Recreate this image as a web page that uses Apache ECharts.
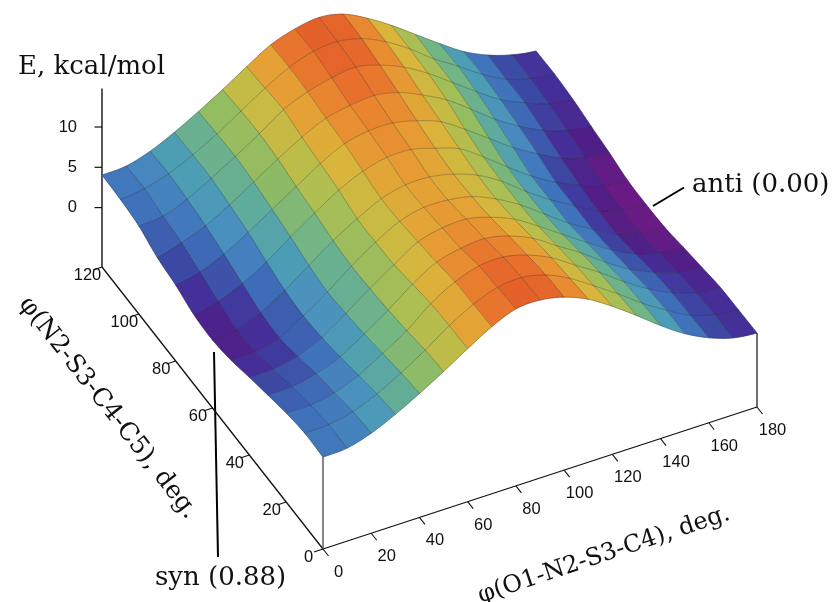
<!DOCTYPE html>
<html><head><meta charset="utf-8">
<style>html,body{margin:0;padding:0;background:#fff}#c{width:834px;height:602px}</style>
<script src="https://cdn.jsdelivr.net/npm/echarts@6/dist/echarts.min.js"></script>
</head><body><div id="c"></div>
<script>
const phi1Values=[0,10,20,30,40,50,60,70,80,90,100,110,120,130,140,150,160,170,180];
const phi2Values=[0,10,20,30,40,50,60,70,80,90,100,110,120];
const phi1Ticks=[0,20,40,60,80,100,120,140,160,180];
const phi2Ticks=[0,20,40,60,80,100,120];
const energyTicks=[0,5,10];
// E (kcal/mol): one row per phi1, one column per phi2
const energy=[
[4.04,4.11,3.67,2.99,2.27,1.50,1.07,1.25,2.06,2.56,3.55,3.92,4.04],
[4.17,4.17,3.67,3.05,2.31,1.56,1.32,1.94,2.68,3.42,3.80,4.29,4.17],
[5.04,4.79,4.23,3.67,2.93,2.31,2.49,3.18,3.92,4.54,4.91,5.16,5.04],
[6.40,6.03,5.41,4.79,4.29,4.04,4.29,4.91,5.66,6.15,6.53,6.53,6.40],
[8.01,7.64,7.15,6.65,6.28,6.03,6.40,7.02,7.52,8.01,8.26,8.14,8.01],
[9.75,9.50,9.01,8.64,8.39,8.26,8.51,9.01,9.38,9.88,10.12,10.00,9.75],
[11.61,11.55,11.36,10.87,10.37,10.25,10.25,10.87,11.24,11.61,12.11,11.86,11.61],
[13.35,13.23,13.10,12.61,12.23,11.86,11.74,12.23,12.73,12.98,13.35,13.47,13.35],
[14.59,14.34,14.09,13.35,12.98,12.61,12.48,12.98,13.35,13.60,14.09,14.47,14.34],
[14.71,14.59,14.22,13.60,13.10,12.54,12.48,12.98,13.35,13.85,14.47,14.71,14.78],
[14.09,13.92,13.47,12.93,12.33,11.99,11.86,12.15,12.65,13.23,13.72,14.09,14.22],
[12.85,12.53,12.17,11.66,11.12,10.71,10.74,11.12,11.55,11.95,12.48,12.73,12.73],
[10.99,10.62,10.25,9.75,9.26,9.01,9.01,9.13,9.63,10.37,10.74,10.87,10.87],
[8.88,8.64,8.39,7.89,7.27,6.90,6.77,6.90,7.52,8.26,8.64,8.64,8.76],
[6.65,6.53,6.28,5.78,5.29,4.79,4.79,4.79,5.41,6.03,6.53,6.77,6.65],
[4.67,4.67,4.42,3.92,3.42,3.05,3.05,3.05,3.67,4.17,4.54,4.79,4.67],
[3.18,3.05,2.93,2.56,1.94,1.44,1.44,1.69,2.12,2.68,3.18,3.18,3.26],
[2.18,2.18,1.94,1.56,1.07,0.57,0.57,0.69,1.19,1.69,2.06,2.31,2.31],
[1.81,1.74,1.66,1.23,0.78,0.32,0.20,0.26,0.78,1.19,1.65,1.87,1.81]
];
const colorLevels=[0.5,1.2,2.0,2.7,3.9,5.0,5.7,6.7,7.7,8.8,9.8,10.8,11.8,12.6,13.4,14.0,14.6];
const colorRamp=['#6a1a85','#4f1f87','#44309a','#3c4aa4','#3f72bb','#4a8fc0','#4d9db5','#5ca9a0','#72b585','#90bb63','#a9bf55','#c3bb45','#dab53b','#e5a034','#e98a30','#e8702c','#e4602a'];

// oblique view of the box
const view={ox:323,oy:549,xx:434,xy:-142,yx:-221,yy:-282,zs:8.06,eBase:-7.37,eTop:14.77};
function project(p1,p2,e){
  return [view.ox+p1/180*view.xx+p2/120*view.yx,
          view.oy+p1/180*view.xy+p2/120*view.yy-(e-view.eBase)*view.zs];
}
function colorOf(e){
  if(e<=colorLevels[0])return colorRamp[0];
  for(let k=1;k<colorLevels.length;k++){
    if(e<=colorLevels[k]){
      const t=(e-colorLevels[k-1])/(colorLevels[k]-colorLevels[k-1]);
      return echarts.color.lerp(t,[colorRamp[k-1],colorRamp[k]]);
    }
  }
  return colorRamp[colorRamp.length-1];
}
// spline smoothing of the drawn surface between grid nodes
const SUB=5;
function cr(a,b,c,d,t){return 0.5*(2*b+(c-a)*t+(2*a-5*b+4*c-d)*t*t+(3*b-a-3*c+d)*t*t*t);}
const ni=phi1Values.length,nj=phi2Values.length;
const E=(i,j)=>energy[Math.max(0,Math.min(ni-1,i))][Math.max(0,Math.min(nj-1,j))];
function rowAt(i,s){const j=Math.min(Math.floor(s),nj-2),t=s-j;return cr(E(i,j-1),E(i,j),E(i,j+1),E(i,j+2),t);}
function surfAt(u,s){const i=Math.min(Math.floor(u),ni-2),t=u-i;return cr(rowAt(i-1,s),rowAt(i,s),rowAt(i+1,s),rowAt(i+2,s),t);}
function surfPoint(api,u,s){return api.coord(project(u*10,s*10,surfAt(u,s)));}

// cells, far to near
const cells=[];
for(let i=ni-2;i>=0;i--)for(let j=nj-2;j>=0;j--){
  cells.push([i,j,energy[i][j],energy[i+1][j],energy[i+1][j+1],energy[i][j+1]]);
}
const gridLines=[];
phi1Values.forEach((_,i)=>gridLines.push(['a',i]));
phi2Values.forEach((_,j)=>gridLines.push(['b',j]));

const sans='"Liberation Sans"',serif='"DejaVu Serif"';
const axisColor='#111';
const seg=(api,a,b,color,w)=>({type:'line',shape:{x1:api.coord(a)[0],y1:api.coord(a)[1],x2:api.coord(b)[0],y2:api.coord(b)[1]},style:{stroke:color,lineWidth:w}});
const tickText=(api,p,dx,dy,t,align)=>{const c=api.coord(p);return{type:'text',style:{x:c[0]+dx,y:c[1]+dy,text:String(t),font:'16.5px '+sans,fill:'#111',align:align||'center',verticalAlign:'middle'}};};

const axisItems=[['boxx'],['boxy'],['boxz'],['vo'],['vx']]
  .concat(phi1Ticks.map(v=>['t1',v])).concat(phi2Ticks.map(v=>['t2',v])).concat(energyTicks.map(v=>['t3',v]));

const option={
  animation:false,
  grid:{left:0,right:0,top:0,bottom:0},
  xAxis:{type:'value',min:0,max:834,show:false},
  yAxis:{type:'value',min:0,max:602,inverse:true,show:false},
  series:[
    {type:'custom',coordinateSystem:'cartesian2d',clip:false,silent:true,data:axisItems.map((d,k)=>[k]),
     renderItem(params,api){
      const d=axisItems[params.dataIndex],b=view.eBase;
      switch(d[0]){
        case 'boxx':return seg(api,project(0,0,b),project(180,0,b),axisColor,1.3);
        case 'boxy':return seg(api,project(0,0,b),project(0,120,b),axisColor,1.3);
        case 'boxz':return seg(api,project(0,120,b),project(0,120,view.eTop),axisColor,1.4);
        case 'vo':return seg(api,project(0,0,b),project(0,0,energy[0][0]),'#555',1.4);
        case 'vx':return seg(api,project(180,0,b),project(180,0,energy[18][0]),'#333',1.4);
        case 't1':{const p=project(d[1],0,b);return{type:'group',children:[
            seg(api,p,[p[0]+5.5,p[1]+7],axisColor,1.1),tickText(api,p,15.5,23.5,d[1])]};}
        case 't2':{const p=project(0,d[1],b);return{type:'group',children:[
            seg(api,p,[p[0]-9,p[1]+3],axisColor,1.1),tickText(api,p,-14.5,8.5,d[1])]};}
        case 't3':{const p=project(0,120,d[1]);return{type:'group',children:[
            seg(api,p,[p[0]-7.5,p[1]],axisColor,1.2),tickText(api,p,-25,0,d[1],'right')]};}
      }
     }},
    {type:'custom',coordinateSystem:'cartesian2d',clip:false,silent:true,data:cells.map((c,k)=>[k]),
     renderItem(params,api){
      const c=cells[params.dataIndex],i=c[0],j=c[1],P=[];
      for(let k=0;k<SUB;k++)P.push(surfPoint(api,i+k/SUB,j));
      for(let k=0;k<SUB;k++)P.push(surfPoint(api,i+1,j+k/SUB));
      for(let k=0;k<SUB;k++)P.push(surfPoint(api,i+1-k/SUB,j+1));
      for(let k=0;k<SUB;k++)P.push(surfPoint(api,i,j+1-k/SUB));
      const col=colorOf((c[2]+c[3]+c[4]+c[5])/4);
      return{type:'polygon',shape:{points:P},style:{fill:col,stroke:col,lineWidth:0.6}};
     }},
    {type:'custom',coordinateSystem:'cartesian2d',clip:false,silent:true,data:gridLines.map((c,k)=>[k]),
     renderItem(params,api){
      const g=gridLines[params.dataIndex],pts=[];
      const n=(g[0]==='a'?nj-1:ni-1)*SUB;
      for(let k=0;k<=n;k++){
        pts.push(g[0]==='a'?surfPoint(api,g[1],k/SUB):surfPoint(api,k/SUB,g[1]));
      }
      return{type:'polyline',shape:{points:pts},style:{fill:'none',stroke:'rgba(30,30,30,0.5)',lineWidth:0.6}};
     }}
  ],
  graphic:[
    {type:'line',shape:{x1:653,y1:206,x2:684,y2:187.5},style:{stroke:'#000',lineWidth:2}},
    {type:'line',shape:{x1:214,y1:352,x2:218,y2:557},style:{stroke:'#000',lineWidth:2}},
    {type:'text',x:18,y:67,style:{text:'E, kcal/mol',font:'26px '+serif,fill:'#111',verticalAlign:'middle'}},
    {type:'text',x:692,y:185,style:{text:'anti (0.00)',font:'26px '+serif,fill:'#111',verticalAlign:'middle'}},
    {type:'text',x:155,y:578,style:{text:'syn (0.88)',font:'26px '+serif,fill:'#111',verticalAlign:'middle'}},
    {type:'text',x:108,y:408,rotation:-52*Math.PI/180,style:{text:'\u03c6(N2-S3-C4-C5), deg.',font:'25px '+serif,fill:'#111',align:'center',verticalAlign:'middle'}},
    {type:'text',x:604,y:555,rotation:18.5*Math.PI/180,style:{text:'\u03c6(O1-N2-S3-C4), deg.',font:'24px '+serif,fill:'#111',align:'center',verticalAlign:'middle'}}
  ]
};
const chart=echarts.init(document.getElementById('c'),null,{renderer:'canvas'});
chart.setOption(option);
</script></body></html>
